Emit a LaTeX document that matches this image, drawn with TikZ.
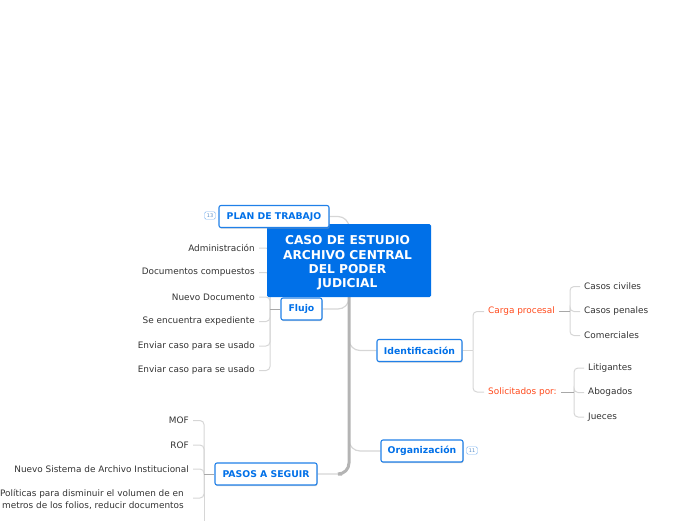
\documentclass[tikz,border=0pt]{standalone}
\usepackage{fontspec}
\setmainfont{DejaVu Sans}
\usetikzlibrary{backgrounds,shadows}
\definecolor{mapblue}{HTML}{0070E8}
\definecolor{boxblue}{HTML}{2080E8}
\definecolor{linkgray}{HTML}{D6D6D6}
\definecolor{trunkgray}{HTML}{B4B4B4}
\definecolor{stemgray}{HTML}{A8A8A8}
\definecolor{leaftext}{HTML}{333333}
\definecolor{redtext}{HTML}{FF4A1C}
\definecolor{badgeblue}{HTML}{7FB6F2}
\definecolor{badgetext}{HTML}{5A8FC8}

\begin{document}
\begin{tikzpicture}[%
    x=1pt,
    y=-1pt,
    central/.style={fill=mapblue,rounded corners=1.5pt,minimum width=164pt,minimum height=73pt,
        text=white,align=center,font=\bfseries\fontsize{12.2}{14.4}\selectfont,inner sep=0pt},
    mainbox/.style={draw=boxblue,fill=white,line width=1.1pt,rounded corners=2pt,minimum height=22pt,
        text=mapblue,font=\bfseries\fontsize{9.3}{10}\selectfont,inner sep=0pt,
        drop shadow={shadow xshift=0.5pt,shadow yshift=-1.2pt,fill=black!35,opacity=0.5}},
    leaf/.style={text=leaftext,font=\fontsize{8.9}{11.5}\selectfont,inner sep=4pt},
    leafleft/.style={leaf,anchor=east,align=right},
    leafright/.style={leaf,anchor=west},
    redleaf/.style={leafright,text=redtext},
    badge/.style={draw=badgeblue,fill=white,rounded corners=1.5pt,minimum width=11pt,minimum height=7.5pt,
        inner sep=0pt,text=badgetext,font=\fontsize{5}{5}\selectfont},
    trunk/.style={draw=trunkgray,line width=3pt,rounded corners=11pt},
    branch/.style={draw=linkgray,line width=1.2pt,rounded corners=11pt},
    twig/.style={draw=linkgray,line width=1pt,rounded corners=4pt},
    stem/.style={draw=stemgray,line width=0.8pt}
    ]

    \useasboundingbox (0,0) rectangle (696,520);

    \node[central] (caso) at (349,260.5) {\hspace*{-3pt}\rule{0pt}{14pt}CASO DE ESTUDIO\\\hspace*{-3pt}ARCHIVO CENTRAL\\\hspace*{-3pt}DEL PODER\\\hspace*{-3pt}JUDICIAL};

    \node[mainbox,minimum width=110pt] (plan) at (274,216.5) {PLAN DE TRABAJO};
    \node[mainbox,minimum width=41pt] (flujo) at (301.5,309) {Flujo};
    \node[mainbox,minimum width=85pt] (ident) at (419.5,350.5) {Identificación};
    \node[mainbox,minimum width=82pt] (organ) at (422,451) {Organización};
    \node[mainbox,minimum width=102pt] (pasos) at (266,474) {PASOS A SEGUIR};

    \node[badge] (planbadge) at (210,215.5) {13};
    \node[badge] (organbadge) at (472,450.5) {11};

    % left of Flujo
    \node[leafleft] (admin) at (259,248) {Administración};
    \node[leafleft] (docs) at (259,272.5) {Documentos compuestos};
    \node[leafleft] (nuevo) at (259,297) {Nuevo Documento};
    \node[leafleft] (expediente) at (259,321.5) {Se encuentra expediente};
    \node[leafleft] (envio) at (259,346) {Enviar caso para se usado};
    \node[leafleft] (enviob) at (259,370.5) {Enviar caso para se usado};

    % left of PASOS A SEGUIR
    \node[leafleft] (mof) at (193,420.5) {MOF};
    \node[leafleft] (rof) at (193,445) {ROF};
    \node[leafleft] (sistema) at (193,469) {Nuevo Sistema de Archivo Institucional};
    \node[leafleft] (politicas) at (188,499.5) {Políticas para disminuir el volumen de en\\metros de los folios, reducir documentos};
    \coordinate (pasosend) at (204,530);
    \coordinate (politicasend) at (193,498);

    % right of Identificacion
    \node[redleaf] (carga) at (484,311.5) {Carga procesal};
    \node[redleaf] (solicitados) at (484,392) {Solicitados por:};
    \node[leafright] (civiles) at (580,286.5) {Casos civiles};
    \node[leafright] (penales) at (580,311.5) {Casos penales};
    \node[leafright] (comerciales) at (580,335.5) {Comerciales};
    \node[leafright] (litigantes) at (584,368) {Litigantes};
    \node[leafright] (abogados) at (584,392.5) {Abogados};
    \node[leafright] (jueces) at (584,417) {Jueces};

    \coordinate (trunkend) at (342,474);
    \coordinate (flujoturn) at (270,309);
    \coordinate (pasosturn) at (204,474);
    \coordinate (identturn) at (473,350.5);
    \coordinate (cargaturn) at (570,311.5);
    \coordinate (solicturn) at (574,392);

    \begin{scope}[on background layer]
    \path[branch] (plan.east) -| (caso);
    \path[branch] (flujo.east) -| (caso);
    \path[branch] (ident.west) -| (caso);
    \path[branch] (organ.west) -| (caso);
    \path[branch] (pasos.east) -| (caso);
    \path[trunk] (caso) |- (trunkend);

    \foreach \leafname in {admin,docs,nuevo,expediente,envio,enviob}
        \path[twig] (\leafname.east) -| (flujoturn);
    \foreach \leafname in {mof,rof,sistema}
        \path[twig] (\leafname.east) -| (pasosturn);
    \path[twig] (politicasend) -| (pasosturn);
    \path[twig] (pasosturn) -- (pasosend);
    \foreach \leafname in {carga,solicitados}
        \path[twig] (\leafname.west) -| (identturn);
    \foreach \leafname in {civiles,penales,comerciales}
        \path[twig] (\leafname.west) -| (cargaturn);
    \foreach \leafname in {litigantes,abogados,jueces}
        \path[twig] (\leafname.west) -| (solicturn);

    \path[stem] (flujo.west) -- (flujoturn);
    \path[stem] (pasos.west) -- (pasosturn);
    \path[branch,rounded corners=0pt] (ident.east) -- (identturn);
    \path[stem] (carga.east) -- (cargaturn);
    \path[stem] (solicitados.east) -- (solicturn);
    \end{scope}

\end{tikzpicture}
\end{document}
